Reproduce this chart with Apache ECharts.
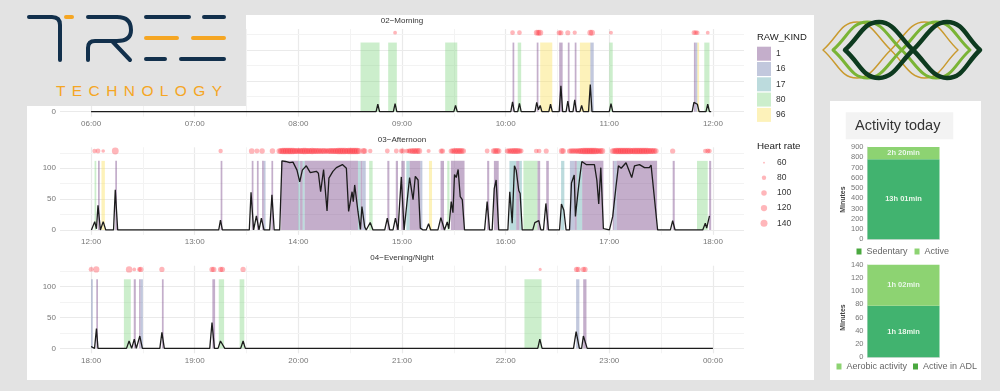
<!DOCTYPE html>
<html>
<head>
<meta charset="utf-8">
<title>Activity timeline</title>
<script src="https://cdn.jsdelivr.net/npm/echarts@6/dist/echarts.min.js"></script>
<style>
  html, body { margin: 0; padding: 0; background: #e3e3e3; }
  #main { width: 1000px; height: 391px; }
  #logos { position: absolute; left: 0; top: 0; width: 1000px; height: 391px; pointer-events: none; }
  #logos path { fill: none; stroke-linecap: round; stroke-linejoin: round; }
  .brand { position: absolute; left: 56px; top: 81.5px; color: #f5a623; font: 15.5px "Liberation Sans", sans-serif; letter-spacing: 6.4px; }
</style>
</head>
<body>
<div id="main"></div>
<svg id="logos" viewBox="0 0 1000 391">
  <rect x="0" y="0" width="246" height="106" fill="#e3e3e3"/>
  <path stroke="#12304c" stroke-width="4" d="M29 17H52Q60 17 60 25V60"/>
  <path stroke="#f5a623" stroke-width="4" d="M66 17H72"/>
  <path stroke="#12304c" stroke-width="4" d="M88 17H117Q131 17 131 30Q131 41 117 41H95Q88 41 88 48V60M112 41L130 60"/>
  <path stroke="#12304c" stroke-width="4" d="M146 17H189M204 17H224M146 59H165M181 59H224"/>
  <path stroke="#f5a623" stroke-width="4" d="M146 38H177M193 38H224"/>
  <path id="lensGold" stroke="#c99a2e" stroke-width="1.5"/>
  <path id="lensLime" stroke="#7ab435" stroke-width="3"/>
  <path id="lensDark" stroke="#0d3a1f" stroke-width="4.5"/>
</svg>
<div class="brand">TECHNOLOGY</div>
<script>
// all x values are minutes since midnight
const kindNames = ['1', '16', '17', '80', '96'];
const hrLegend = [60, 80, 100, 120, 140];

// [start, end, RAW_KIND]
const kindsMorning = [[516,527,80],[532,537,80],[565,572,80],[604,605,1],[607,609,80],[618,619,1],[620,627,96],
  [631,633,1],[636,637,1],[640,641,1],[643,649,96],[649,651,16],[660,662,80],[709,710,1],[710,711,16],[711,712,96],[715,718,80]];
const kindsAfternoon = [[722,723,80],[724,725,1],[726,728,96],[734,735,1],[795,796,1],[813,814,1],[816,817,1],[819,820,1],[820,821,16],
  [824.4,825.4,1],[830,840,1],[840,841,17],[841,842.5,1],[842.5,843.6,17],[843.6,874.5,1],[874.5,876,17],[876,877,1],[877,879,16],
  [881,883,80],[891.5,892.7,1],[896.4,897.7,1],[899.6,901.6,1],[902.5,904.4,17],[904.4,910.6,1],[910.6,911.8,16],[915.6,917.4,96],
  [922.3,924.3,1],[926.2,927.5,80],[928.3,936.2,1],[949.3,950.5,1],[953.2,956,1],[962.2,966.1,17],[966.1,968,1],[968,969.4,17],
  [970.3,978.4,80],[978.4,980,1],[983.5,985,1],[992.1,994,17],[997.2,999.9,16],[999.9,1001.2,1],[1001.2,1004.3,17],[1004.3,1016.6,1],
  [1022,1022.8,1],[1022.8,1024.3,16],[1024.3,1047.7,1],[1056.7,1057.9,1],[1070.8,1077,80],[1077.8,1079,1]];
const kindsEvening = [[1080,1081,16],[1083,1084,1],[1099,1103,80],[1104.7,1105.9,1],[1107.8,1108.6,1],[1108.6,1110,16],[1121,1122,1],
  [1150.2,1151.8,1],[1153.9,1157,80],[1166,1168.7,80],[1330.9,1340.8,80],[1360.8,1362.7,16],[1364.9,1366.8,1]];

// [minute, activity]
const lineMorning = [[360,0],[525,0],[526,12],[527,0],[535,0],[536,13],[537,0],[570,0],[571,10],[572,0],[603,0],[604,16],[605,0],
  [607,0],[608,13.5],[609,0],[617,0],[618,15],[619,3],[620,10],[621,0],[625,0],[626,12],[627,0],[631,0],[632,42],[633,0],[635,0],
  [636,17],[637,0],[639,0],[640,19],[641,0],[643,0],[644,10],[645,0],[648,0],[649,44],[650,0],[660,0],[661,13],[662,0],[708,0],
  [709,15],[710,13],[711,12],[712,0],[716,0],[717,12],[718,0],[719,0]];
const lineAfternoon = [[720.2,0],[722.1,13.5],[723.1,2],[724,40],[725.4,0],[726.2,0],[727,13.5],[728.5,0],[733,0],[734,65],[735.4,0],
  [793.9,0],[794.9,16],[796,0],[811.6,0],[812.6,61],[814.1,0],[815.7,23],[817.2,0],[818.6,19],[820.1,0],[823.4,0],[824.7,57],[826,0],
  [829.2,0],[830.5,112],[832.6,111],[835,109],[836.9,110],[839.2,97],[840.8,78],[842.3,97],[844.6,104],[846.9,93],[850.4,95],[851.6,92],
  [852.9,62],[853.9,59],[854.6,98],[856.6,31],[857.7,84],[860,95],[862,101],[865.5,106],[867.8,100],[869.1,30],[870.1,27],[871.1,62],
  [871.8,46],[872.6,73],[874.5,30],[875.9,1],[876.8,38],[878.4,5],[879.3,0],[880.3,0],[881.6,12],[883.2,0],[890,0],[891.5,19],[892.9,0],
  [894.8,0],[896.2,19],[897.7,0],[898.3,0],[899.6,86],[901.2,0],[904.4,85],[906.4,49],[907.7,87],[909.3,81],[910.6,3],[912.2,0],[914,0],
  [915.4,10],[916.6,0],[920.8,0],[922.5,20],[924.6,0],[925.6,0],[926.2,13],[927.1,2],[928.5,46],[929.5,28],[930.4,90],[931.4,85],[932.5,98],
  [933.7,54],[934.9,49],[936.2,0],[947.8,0],[949.3,46],[950.7,0],[952.2,0],[953.4,67],[954.5,81],[956,0],[961.3,0],[962.4,62],[963.8,11],
  [965.1,104],[966.1,97],[967.6,64],[968.4,59],[969.6,0],[975.7,0],[976.9,12],[979.2,15],[980.4,0],[981.9,0],[983.3,43],[984.8,0],[991.2,0],
  [992.3,42],[993.7,32],[995,0],[997,0],[998.1,76],[999.7,89],[1000.4,22],[1001.8,59],[1002.7,81],[1004.1,111],[1005,112],[1006.6,106],
  [1011.4,106],[1012.8,81],[1013.9,42],[1015.1,101],[1016.6,2],[1020.1,0],[1022,22],[1024,73],[1025.3,104],[1026.9,100],[1029.7,109],
  [1033,85],[1034.6,104],[1037.5,106],[1040.4,101],[1043.2,101],[1044.2,105],[1048,0],[1055.4,0],[1056.7,15],[1058.1,0],[1074.1,0],
  [1075.6,11],[1076.4,3],[1078,23]];
const lineEvening = [[1080,3],[1081,0],[1082,0],[1083.1,32],[1084,0],[1100.5,0],[1102,12],[1103.5,0],[1104,0],[1105,15],[1106.2,0],[1107.2,0],
  [1108.2,20],[1109.7,0],[1119.8,0],[1121,26],[1122.4,0],[1148.7,0],[1150,42],[1151.4,0],[1153.5,0],[1154.9,12],[1156,12],[1157.4,0],
  [1166.6,0],[1168,12],[1169.3,0],[1338.6,0],[1339.8,15],[1341.1,0],[1359.3,0],[1360.8,27],[1362.7,0],[1364,0],[1365,20],[1365.8,20],
  [1367.2,0],[1440,0]];

// [minute, heart rate]
const hrMorning = [[536,72],[604,85],[608,85],[618,105],[619,110],[620,115],[631,92],[632,92],[636,92],[640,78],[649,108],[650,112],
  [661,72],[709,85],[710,85],[711,80],[717,72]];
const hrAfternoon = [[722,80],[724,88],[727,70],[734,135],[795,80],[813,105],[816,88],[819,100],[825,100],
  [829,105],[830,118],[831,122],[832,120],[833,124],[834,122],[835,120],[836,125],[837,122],[838,118],[839,115],[840,112],[841,116],[842,118],
  [843,120],[844,122],[845,118],[846,116],[847,118],[848,120],[849,118],[850,115],[851,112],[852,108],[853,105],[854,110],[855,108],[856,100],
  [857,106],[858,110],[859,112],[860,114],[861,116],[862,118],[863,120],[864,122],[865,124],[866,122],[867,120],[868,116],[869,120],[870,124],
  [871,126],[872,128],[873,126],[874,122],[875,115],[877.6,108],[878.4,100],[881.6,80],[891.5,88],[896.7,88],
  [899.6,88],[900.5,92],[902.8,85],[904,88],[905,100],[906,105],[907,108],[908,106],[909,110],[910,108],[915.4,76],[922.7,92],[923.5,92],
  [928.5,95],[929.5,100],[930.5,108],[931.5,110],[932.5,112],[933.5,110],[934.5,108],[935.5,100],[949.3,88],[953,100],[954,108],[955,110],[956,100],
  [961,95],[962,100],[963,104],[964,108],[965,110],[966,112],[967,108],[968,100],[969,88],[977.7,85],[979.4,85],[983.5,92],[992.5,108],[993.3,100],
  [997,95],[998,100],[999,102],[1000,100],[1001,98],[1002,105],[1003,112],[1004,118],[1005,124],[1006,128],[1007,130],[1008,130],[1009,130],[1010,128],
  [1011,126],[1012,122],[1013,110],[1014,105],[1015,112],[1016,108],[1022,105],[1023,112],[1024,120],[1025,124],[1026,128],[1027,130],[1028,130],
  [1029,128],[1030,126],[1031,124],[1032,122],[1033,118],[1034,122],[1035,124],[1036,126],[1037,124],[1038,122],[1039,124],[1040,122],[1041,120],
  [1042,120],[1043,118],[1044,116],[1045,112],[1046,108],[1047,100],[1056.7,95],[1075.6,85],[1077,88],[1078,85]];
const hrEvening = [[1080,88],[1083,118],[1102,122],[1105,72],[1108,85],[1108.8,95],[1121,95],[1150,95],[1151,98],[1155,95],[1156,98],[1168,95],
  [1340,65],[1361,92],[1362,92],[1365,92],[1366,92]];

const xMajorMorning = [360,420,480,540,600,660,720];
const xMajorAfternoon = [720,780,840,900,960,1020,1080];
const xMajorEvening = [1080,1140,1200,1260,1320,1380,1440];
const xMinorMorning = [390,450,510,570,630,690];
const xMinorAfternoon = [750,810,870,930,990,1050];
const xMinorEvening = [1110,1170,1230,1290,1350,1410];
const yMajor = [0,50,100];
const yMinor = [25,75,125];

const sedentaryMin = [781];
const activeMin = [140];
const adlMin = [78];
const aerobicMin = [62];
const sedentaryLabel = '13h 01min';
const activeLabel = '2h 20min';
const adlLabel = '1h 18min';
const aerobicLabel = '1h 02min';

const kindColors = {
  '1': 'rgba(125,75,140,0.45)',
  '16': 'rgba(110,125,175,0.42)',
  '17': 'rgba(95,170,175,0.42)',
  '80': 'rgba(120,210,120,0.38)',
  '96': 'rgba(250,225,90,0.42)'
};
const FONT = '"Liberation Sans", sans-serif';
const HR_Y = 128;
const KIND_TOP = 112;

function hrSize(hr) {
  return 1.8 + 5.2 * Math.sqrt(Math.max(hr - 60, 0) / 80);
}
function clock(v) {
  const h = Math.floor(v / 60) % 24;
  return (h < 10 ? '0' : '') + h + ':' + (v % 60 < 10 ? '0' : '') + (v % 60);
}
function renderKind(params, api) {
  const a = api.coord([api.value(0), KIND_TOP]);
  const b = api.coord([api.value(1), 0]);
  return { type: 'rect', shape: { x: a[0], y: a[1], width: b[0] - a[0], height: b[1] - a[1] }, style: api.style() };
}

const panels = [
  { title: '02\u2212Morning', top: 29, titleTop: 17, kinds: kindsMorning, line: lineMorning, hr: hrMorning, major: xMajorMorning, minor: xMinorMorning },
  { title: '03\u2212Afternoon', top: 147.3, titleTop: 135.5, kinds: kindsAfternoon, line: lineAfternoon, hr: hrAfternoon, major: xMajorAfternoon, minor: xMinorAfternoon },
  { title: '04\u2212Evening/Night', top: 265.7, titleTop: 254, kinds: kindsEvening, line: lineEvening, hr: hrEvening, major: xMajorEvening, minor: xMinorEvening }
];

const grid = [];
const xAxis = [];
const yAxis = [];
const series = [];
const titles = [];

panels.forEach((p, i) => {
  grid.push({ left: 60, width: 684, top: p.top, height: 87.6 });
  titles.push({ text: p.title, left: 402, top: p.titleTop, textAlign: 'center', padding: 0,
    textStyle: { fontSize: 8, fontWeight: 'normal', color: '#333', fontFamily: FONT } });
  xAxis.push({
    type: 'value', gridIndex: i, min: p.major[0] - 18, max: p.major[6] + 18,
    axisLine: { show: false },
    axisTick: { show: false, customValues: p.major },
    axisLabel: { customValues: p.major, formatter: clock, fontSize: 8, color: '#777', margin: 3, fontFamily: FONT },
    splitLine: { show: true, lineStyle: { color: '#eaeaea', width: 1.2 } }
  });
  yAxis.push({
    type: 'value', gridIndex: i, min: -8, max: 134,
    axisLine: { show: false },
    axisTick: { show: false, customValues: yMajor },
    axisLabel: { customValues: yMajor, fontSize: 8, color: '#777', margin: 4, fontFamily: FONT },
    splitLine: { show: true, lineStyle: { color: '#eaeaea', width: 1.2 } }
  });
  // half hour and 25/75/125 lines
  series.push({
    type: 'line', xAxisIndex: i, yAxisIndex: i, data: [], silent: true, z: 1,
    markLine: {
      silent: true, symbol: 'none', animation: false, z: 1, label: { show: false },
      lineStyle: { color: '#f3f3f3', width: 1, type: 'solid' },
      data: p.minor.map(v => ({ xAxis: v })).concat(yMinor.map(v => ({ yAxis: v })))
    }
  });
  kindNames.forEach(name => {
    series.push({
      type: 'custom', name: name, xAxisIndex: i, yAxisIndex: i, renderItem: renderKind, z: 2,
      itemStyle: { color: kindColors[name] },
      encode: { x: [0, 1] },
      data: p.kinds.filter(r => String(r[2]) === name).map(r => [r[0], r[1]])
    });
  });
  series.push({
    type: 'line', xAxisIndex: i, yAxisIndex: i, data: p.line, showSymbol: false, z: 3,
    lineStyle: { color: '#1c1c1c', width: 1.3 }
  });
  series.push({
    type: 'scatter', xAxisIndex: i, yAxisIndex: i, z: 4,
    data: p.hr.map(d => [d[0], HR_Y, d[1]]),
    symbolSize: v => hrSize(v[2]),
    itemStyle: { color: 'rgba(255,40,50,0.42)' }
  });
});

// heart rate key, drawn as a tiny scatter so the dot sizes stay on the same scale
grid.push({ left: 757, width: 14, top: 155.1, height: 75.7 });
xAxis.push({ type: 'value', gridIndex: 3, min: 0, max: 1, show: false });
yAxis.push({
  type: 'category', gridIndex: 3, inverse: true, position: 'right', data: hrLegend.map(String),
  axisLine: { show: false }, axisTick: { show: false }, splitLine: { show: false },
  axisLabel: { fontSize: 8.5, color: '#333', margin: 6, fontFamily: FONT }
});
series.push({
  type: 'scatter', xAxisIndex: 3, yAxisIndex: 3,
  data: hrLegend.map(h => [0.5, String(h), h]),
  symbolSize: v => hrSize(v[2]),
  itemStyle: { color: 'rgba(255,40,50,0.42)' }
});

function barAxes(idx, top, height, max, step) {
  grid.push({ left: 867.5, width: 72, top: top, height: height });
  xAxis.push({ type: 'category', gridIndex: idx, data: ['today'],
    axisLabel: { show: false }, axisTick: { show: false }, axisLine: { lineStyle: { color: '#e2e2e2' } } });
  yAxis.push({
    type: 'value', gridIndex: idx, min: 0, max: max, interval: step,
    name: 'Minutes', nameLocation: 'middle', nameGap: 21,
    nameTextStyle: { fontSize: 7, fontWeight: 'bold', color: '#444', fontFamily: FONT, padding: [0, 13, 0, 0] },
    axisLine: { show: true, lineStyle: { color: '#e2e2e2' } }, axisTick: { show: false }, splitLine: { show: false },
    axisLabel: { fontSize: 7.5, color: '#777', margin: 4, fontFamily: FONT }
  });
}
function barSeries(idx, name, values, label, color) {
  series.push({
    type: 'bar', name: name, xAxisIndex: idx, yAxisIndex: idx, stack: 'a' + idx, data: values, barWidth: '100%',
    itemStyle: { color: color },
    label: { show: true, position: 'inside', formatter: label, fontSize: 7.5, fontWeight: 'bold', color: '#eaf7ea', fontFamily: FONT }
  });
}
barAxes(4, 147, 92.3, 900, 100);
barSeries(4, 'Sedentary', sedentaryMin, sedentaryLabel, '#41b36f');
barSeries(4, 'Active', activeMin, activeLabel, '#8dd372');
barAxes(5, 264.7, 92.6, 140, 20);
barSeries(5, 'Active in ADL', adlMin, adlLabel, '#41b36f');
barSeries(5, 'Aerobic activity', aerobicMin, aerobicLabel, '#8dd372');

// the three interlaced loops of the right hand logo
function lens(l, c, r) {
  const t = 22, b = 78, m = 50;
  const w = c - l;
  return 'M' + l + ' ' + m +
    'C' + (l + w * .22) + ' 37 ' + (l + w * .26) + ' ' + t + ' ' + (l + w * .5) + ' ' + t +
    'C' + (l + w * .72) + ' ' + t + ' ' + (l + w * .8) + ' 37 ' + c + ' ' + m +
    'C' + (c + w * .2) + ' 63 ' + (c + w * .28) + ' ' + b + ' ' + (c + w * .5) + ' ' + b +
    'C' + (c + w * .74) + ' ' + b + ' ' + (c + w * .78) + ' 63 ' + r + ' ' + m +
    'C' + (c + w * .78) + ' 37 ' + (c + w * .74) + ' ' + t + ' ' + (c + w * .5) + ' ' + t +
    'C' + (c + w * .28) + ' ' + t + ' ' + (c + w * .2) + ' 37 ' + c + ' ' + m +
    'C' + (l + w * .8) + ' 63 ' + (l + w * .72) + ' ' + b + ' ' + (l + w * .5) + ' ' + b +
    'C' + (l + w * .26) + ' ' + b + ' ' + (l + w * .22) + ' 63 ' + l + ' ' + m + 'Z';
}
document.getElementById('lensGold').setAttribute('d', lens(823, 890.7, 958));
document.getElementById('lensLime').setAttribute('d', lens(833, 901.7, 970));
document.getElementById('lensDark').setAttribute('d', lens(845, 913, 980));

const graphics = [
  { type: 'rect', z: -2, shape: { x: 27, y: 15, width: 787, height: 365 }, style: { fill: '#fff' } },
  { type: 'rect', z: -2, shape: { x: 830, y: 101, width: 151, height: 279 }, style: { fill: '#fff' } },
  { type: 'rect', z: -1, shape: { x: 845.7, y: 112.3, width: 107.6, height: 27 }, style: { fill: '#f3f3f3' } },
  { type: 'text', z: 60, left: 855, top: 118, style: { text: 'Activity today', fontSize: 14.5, fill: '#333', fontFamily: FONT } },
  { type: 'text', z: 60, left: 757, top: 32, style: { text: 'RAW_KIND', fontSize: 9.5, fill: '#222', fontFamily: FONT } },
  { type: 'text', z: 60, left: 757, top: 141, style: { text: 'Heart rate', fontSize: 9.8, fill: '#222', fontFamily: FONT } }
];

const legends = [
  { data: kindNames, orient: 'vertical', left: 757, top: 46.7, padding: 0, itemWidth: 14, itemHeight: 14, itemGap: 1.3,
    icon: 'rect', selectedMode: false, textStyle: { fontSize: 8.5, color: '#333', fontFamily: FONT } },
  { data: [{ name: 'Sedentary', itemStyle: { color: '#4aa83f' } }, 'Active'], left: 856.5, top: 247, padding: 0,
    itemWidth: 5, itemHeight: 6, itemGap: 7, icon: 'rect', selectedMode: false, textStyle: { fontSize: 9, color: '#666', fontFamily: FONT } },
  { data: ['Aerobic activity', { name: 'Active in ADL', itemStyle: { color: '#4aa83f' } }], left: 836.5, top: 362, padding: 0,
    itemWidth: 5, itemHeight: 6, itemGap: 6, icon: 'rect', selectedMode: false, textStyle: { fontSize: 9, color: '#666', fontFamily: FONT } }
];

const chart = echarts.init(document.getElementById('main'));
chart.setOption({
  animation: false,
  backgroundColor: '#e3e3e3',
  title: titles,
  legend: legends,
  grid: grid,
  xAxis: xAxis,
  yAxis: yAxis,
  series: series,
  graphic: { elements: graphics }
});
</script>
</body>
</html>
